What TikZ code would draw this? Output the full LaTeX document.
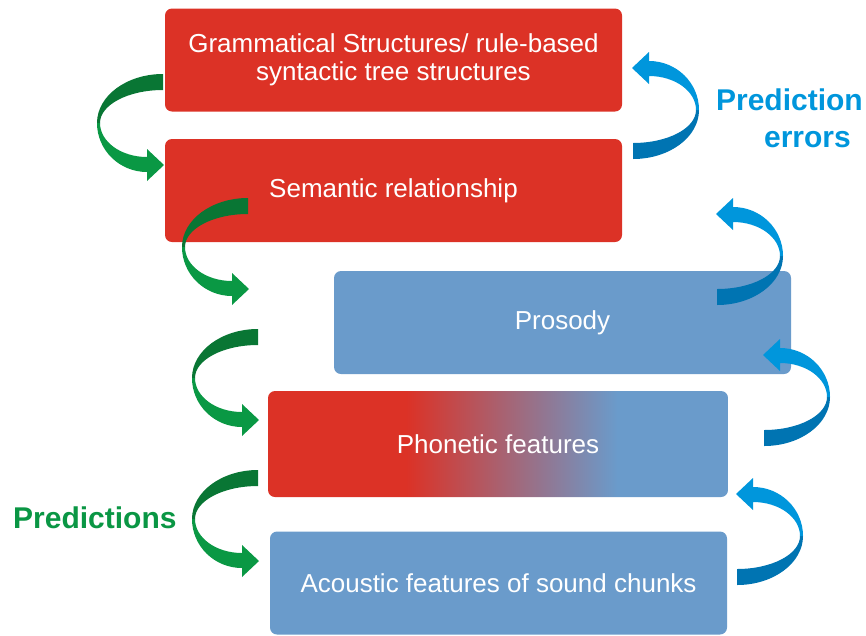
\documentclass[tikz,border=0pt]{standalone}
\usepackage{fontspec}
\setmainfont{Liberation Sans}
\definecolor{boxred}{RGB}{220,50,38}
\definecolor{boxblue}{RGB}{106,155,203}
\definecolor{gback}{RGB}{9,118,52}
\definecolor{gfront}{RGB}{10,152,68}
\definecolor{bback}{RGB}{0,116,178}
\definecolor{bfront}{RGB}{0,150,220}
\definecolor{txtgreen}{RGB}{10,150,68}
\definecolor{txtblue}{RGB}{0,150,220}
% box is mapped onto 25bp..75bp of the shading
\pgfdeclarehorizontalshading{redblue}{100bp}{color(0bp)=(boxred); color(40bp)=(boxred); color(63bp)=(boxblue); color(100bp)=(boxblue)}
\tikzset{
  box/.style={rounded corners=7pt, minimum width=457pt, minimum height=103pt,
    inner sep=0pt, text=white, align=center,
    font=\fontsize{26}{28.5}\selectfont},
  redbox/.style={box, fill=boxred},
  bluebox/.style={box, fill=boxblue},
  lbl/.style={font=\fontsize{30}{37}\selectfont\bfseries, inner sep=0pt},
  % U-turn ribbon arrow; origin at the tail's x and the turn's y
  pics/uturn/.style 2 args={code={
    \fill[#1] (0,-49) arc[start angle=-90, end angle=-180, x radius=66, y radius=49]
      -- (-63,0) arc[start angle=180, end angle=270, x radius=63, y radius=33] -- cycle;
    \fill[#2] (-66,0) arc[start angle=180, end angle=90, x radius=50, y radius=49]
      -- (-16,58) -- (1,42) -- (-16,26) -- (-16,34)
      arc[start angle=90, end angle=180, x radius=47, y radius=34] -- cycle;
  }}
}
\begin{document}
\begin{tikzpicture}[x=1pt, y=-1pt]
\useasboundingbox (0,0) rectangle (866,635);

% levels of the hierarchy
\node[redbox] (gram) at (393.5,60) {Grammatical Structures/ rule-based\\syntactic tree structures};
\node[redbox] (sem) at (393.5,190.5) {Semantic relationship};
\node[bluebox] (pros) at (562.5,322.5) {Prosody};
\node[box, minimum width=460pt, minimum height=106pt, shading=redblue] (phon) at (498,444) {Phonetic features};
\node[bluebox] (acou) at (498.5,583) {Acoustic features of sound chunks};

% top-down predictions
\pic at (163,123) {uturn={gback}{gfront}};
\pic at (248,247) {uturn={gback}{gfront}};
\pic at (258,378) {uturn={gback}{gfront}};
\pic at (258,519) {uturn={gback}{gfront}};

% bottom-up prediction errors
\pic[rotate=180] at (633,110) {uturn={bback}{bfront}};
\pic[rotate=180] at (717,256) {uturn={bback}{bfront}};
\pic[rotate=180] at (764,397) {uturn={bback}{bfront}};
\pic[rotate=180] at (737,536) {uturn={bback}{bfront}};

\node[lbl, text=txtblue, align=right, anchor=north east] (err) at (863,89) {Prediction\\errors\hspace*{12pt}};
\node[lbl, text=txtgreen, anchor=west] (pred) at (13,518) {Predictions};
\end{tikzpicture}
\end{document}
